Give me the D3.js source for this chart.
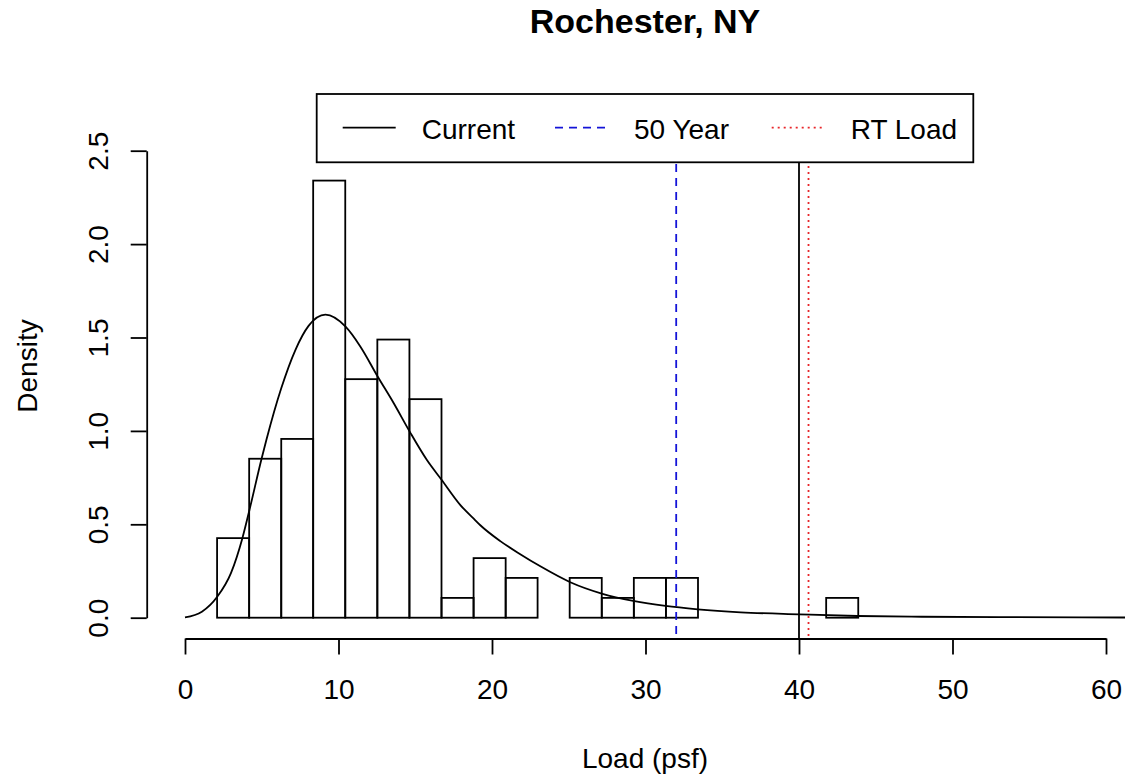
<!DOCTYPE html>
<html>
<head>
<meta charset="utf-8">
<script src="https://cdn.jsdelivr.net/npm/d3@7"></script>
<style>
  html, body { margin: 0; padding: 0; background: #fff; }
  svg { display: block; }
  text { font-family: "Liberation Sans", Arial, sans-serif; fill: #000; }
</style>
</head>
<body>
<svg id="chart" width="1125" height="776"></svg>
<script>
// ---------------- data ----------------
const title = "Rochester, NY";
const xLabel = "Load (psf)";
const yLabel = "Density";

// histogram bin edges (psf) and bar densities
const binEdges = [2.09, 4.18, 6.27, 8.35, 10.44, 12.53, 14.62, 16.71, 18.80, 20.89,
                  22.97, 25.06, 27.15, 29.24, 31.33, 33.42, 35.51, 37.60, 39.68, 41.77, 43.86];
const binDensity = [0.426, 0.851, 0.957, 2.340, 1.277, 1.489, 1.170, 0.106, 0.319, 0.213,
                    0.0, 0.213, 0.106, 0.213, 0.213, 0.0, 0.0, 0.0, 0.0, 0.106];

// fitted density curve
const curveX = [0, 1.1, 2.1, 3.0, 3.73, 4.2, 4.98, 5.3, 6.27, 7.19, 8.05, 9.15, 10.46, 11.43,
                12.56, 13.6, 14.64, 15.76, 16.7, 17.94, 18.81, 19.24, 20.54, 21.84, 23.15,
                25.1, 27.2, 29.2, 31.3, 33.4, 36.2, 40.0, 43.8, 48, 53, 62.4];
const curveY = [0.002, 0.032, 0.112, 0.24, 0.423, 0.577, 0.848, 0.951, 1.228, 1.433, 1.562,
                1.622, 1.558, 1.451, 1.29, 1.148, 0.996, 0.844, 0.74, 0.603, 0.53, 0.495,
                0.41, 0.34, 0.275, 0.19, 0.128, 0.09, 0.063, 0.045, 0.029, 0.018, 0.009,
                0.005, 0.003, 0.001];

// reference lines / legend
const lineLabels = ["Current", "50 Year", "RT Load"];
const lineValues = [40.0, 32.0, 40.62];
const lineColors = ["#000000", "#1414d8", "#e8262a"];
const lineDashes = [null, "8,6", "2,4"];

// ticks
const xTicks = [0, 10, 20, 30, 40, 50, 60];
const yTicks = [0.0, 0.5, 1.0, 1.5, 2.0, 2.5];

// ---------------- drawing ----------------
const svg = d3.select("#chart");
svg.append("rect").attr("width", 1125).attr("height", 776).attr("fill", "#fff");

const x = d3.scaleLinear().domain([0, 60]).range([185, 1106]);
const y = d3.scaleLinear().domain([0, 2.5]).range([617.7, 150.7]);
const plotTop = 94, plotBottom = 638.5;
const LW = 1.8;

// histogram bars
const bars = binDensity.map((d, i) => ({x0: binEdges[i], x1: binEdges[i + 1], d}));
svg.append("g").selectAll("rect").data(bars).join("rect")
  .attr("x", b => x(b.x0))
  .attr("y", b => y(b.d))
  .attr("width", b => x(b.x1) - x(b.x0))
  .attr("height", b => y(0) - y(b.d))
  .attr("fill", "none")
  .attr("stroke", "#000")
  .attr("stroke-width", LW);

// density curve
const pts = curveX.map((v, i) => [v, curveY[i]]);
svg.append("path")
  .datum(pts)
  .attr("d", d3.line().x(p => x(p[0])).y(p => y(p[1])).curve(d3.curveMonotoneX))
  .attr("fill", "none")
  .attr("stroke", "#000")
  .attr("stroke-width", LW);

// vertical reference lines
lineValues.forEach((v, i) => {
  svg.append("line")
    .attr("x1", x(v)).attr("x2", x(v))
    .attr("y1", plotTop).attr("y2", plotBottom)
    .attr("stroke", lineColors[i])
    .attr("stroke-width", LW)
    .attr("stroke-dasharray", lineDashes[i]);
});

// x axis
const xAxis = svg.append("g")
  .attr("transform", `translate(0,${plotBottom})`)
  .call(d3.axisBottom(x).tickValues(xTicks).tickSize(16).tickPadding(25).tickSizeOuter(0));
xAxis.select(".domain").attr("stroke", "#000").attr("stroke-width", LW);
xAxis.selectAll(".tick line").attr("stroke", "#000").attr("stroke-width", LW);
xAxis.selectAll("text").attr("font-size", 28).attr("font-family", "Liberation Sans, Arial, sans-serif");

// y axis
const yAxis = svg.append("g")
  .attr("transform", `translate(146.7,0)`)
  .call(d3.axisLeft(y).tickValues(yTicks).tickSize(16).tickSizeOuter(0).tickFormat(d3.format(".1f")));
yAxis.select(".domain").attr("stroke", "#000").attr("stroke-width", LW);
yAxis.selectAll(".tick line").attr("stroke", "#000").attr("stroke-width", LW);
yAxis.selectAll("text")
  .attr("font-size", 28)
  .attr("font-family", "Liberation Sans, Arial, sans-serif")
  .attr("x", null).attr("dy", null)
  .attr("text-anchor", "middle")
  .attr("transform", "translate(-38.5,0) rotate(-90)");

// title and axis labels
svg.append("text").attr("x", 645).attr("y", 33)
  .attr("text-anchor", "middle").attr("font-size", 34).attr("font-weight", "bold")
  .text(title);
svg.append("text").attr("x", 645).attr("y", 768)
  .attr("text-anchor", "middle").attr("font-size", 28)
  .text(xLabel);
svg.append("text").attr("transform", "translate(37,366) rotate(-90)")
  .attr("text-anchor", "middle").attr("font-size", 28)
  .text(yLabel);

// legend
const lg = svg.append("g");
lg.append("rect").attr("x", 316.7).attr("y", 94).attr("width", 656.6).attr("height", 68.3)
  .attr("fill", "#fff").attr("stroke", "#000").attr("stroke-width", LW);
const legendLineStart = [342.7, 555, 771.7];
lineLabels.forEach((lab, i) => {
  const x0 = legendLineStart[i];
  lg.append("line")
    .attr("x1", x0).attr("x2", x0 + 53)
    .attr("y1", 127.7).attr("y2", 127.7)
    .attr("stroke", lineColors[i]).attr("stroke-width", LW)
    .attr("stroke-dasharray", lineDashes[i]);
  lg.append("text").attr("x", x0 + 79).attr("y", 139.3)
    .attr("font-size", 28).text(lab);
});
</script>
</body>
</html>
